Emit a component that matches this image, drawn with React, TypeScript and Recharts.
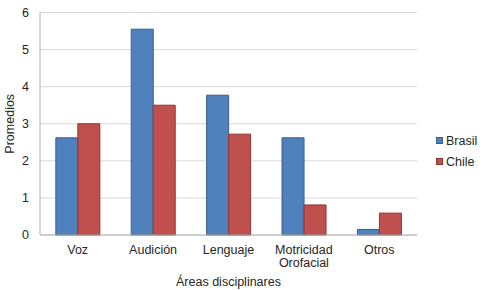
import { BarChart, Bar, XAxis, YAxis, CartesianGrid } from "recharts";

const categories = ["Voz", "Audición", "Lenguaje", "Motricidad\nOrofacial", "Otros"];
const brasil = [2.62, 5.55, 3.77, 2.62, 0.15];
const chile = [3.0, 3.5, 2.72, 0.81, 0.59];
const yTicks = [0, 1, 2, 3, 4, 5, 6];

const data = categories.map((name, i) => ({ name, Brasil: brasil[i], Chile: chile[i] }));

const FONT = "'Liberation Sans', Arial, sans-serif";
const TEXT = "#262626";

// etiqueta de categoria en varias lineas
const CategoryTick = (props: any) => {
  const { x, y, payload } = props;
  const lines = String(payload.value).split("\n");
  return (
    <text x={x} y={y} textAnchor="middle" fill={TEXT} fontSize={12.5} fontFamily={FONT}>
      {lines.map((line, i) => (
        <tspan key={i} x={x} dy={i === 0 ? 10.5 : 13.5}>
          {line}
        </tspan>
      ))}
    </text>
  );
};

const legendItems = [
  { name: "Brasil", fill: "#4f81bd", stroke: "#385d8a" },
  { name: "Chile", fill: "#c0504d", stroke: "#8c3836" },
];

const SideLegend = () => (
  <div style={{ position: "absolute", left: 436, top: 130, fontFamily: FONT, fontSize: 12.5, color: TEXT }}>
    {legendItems.map((it) => (
      <div key={it.name} style={{ display: "flex", alignItems: "center", height: 21 }}>
        <span
          style={{
            width: 5,
            height: 5,
            background: it.fill,
            border: `1px solid ${it.stroke}`,
            marginRight: 3,
          }}
        />
        <span>{it.name}</span>
      </div>
    ))}
  </div>
);

export default function App() {
  return (
    <div style={{ position: "absolute", left: 0, top: 0, width: 500, height: 290, background: "#fff" }}>
      <BarChart
        width={500}
        height={290}
        data={data}
        margin={{ top: 12.5, right: 83, bottom: 0, left: 0 }}
        barCategoryGap="21%"
        barGap={0}
      >
        <CartesianGrid vertical={false} stroke="#d9d9d9" />
        <XAxis
          dataKey="name"
          height={55}
          interval={0}
          tickLine={false}
          stroke="#b0b0b0"
          tick={<CategoryTick />}
          label={{ value: "Áreas disciplinares", position: "insideBottom", offset: 4, fill: TEXT, fontSize: 12.5, fontFamily: FONT }}
        />
        <YAxis
          width={40}
          domain={[0, 6]}
          ticks={yTicks}
          tickLine={false}
          tickMargin={5}
          stroke="#b0b0b0"
          tick={{ fill: TEXT, fontSize: 12.5, fontFamily: FONT }}
          label={{ value: "Promedios", angle: -90, position: "center", dx: -10, fill: TEXT, fontSize: 12.5, fontFamily: FONT }}
        />
        <Bar dataKey="Brasil" fill="#4f81bd" stroke="#385d8a" strokeWidth={1} isAnimationActive={false} />
        <Bar dataKey="Chile" fill="#c0504d" stroke="#8c3836" strokeWidth={1} isAnimationActive={false} />
      </BarChart>
      <SideLegend />
    </div>
  );
}
